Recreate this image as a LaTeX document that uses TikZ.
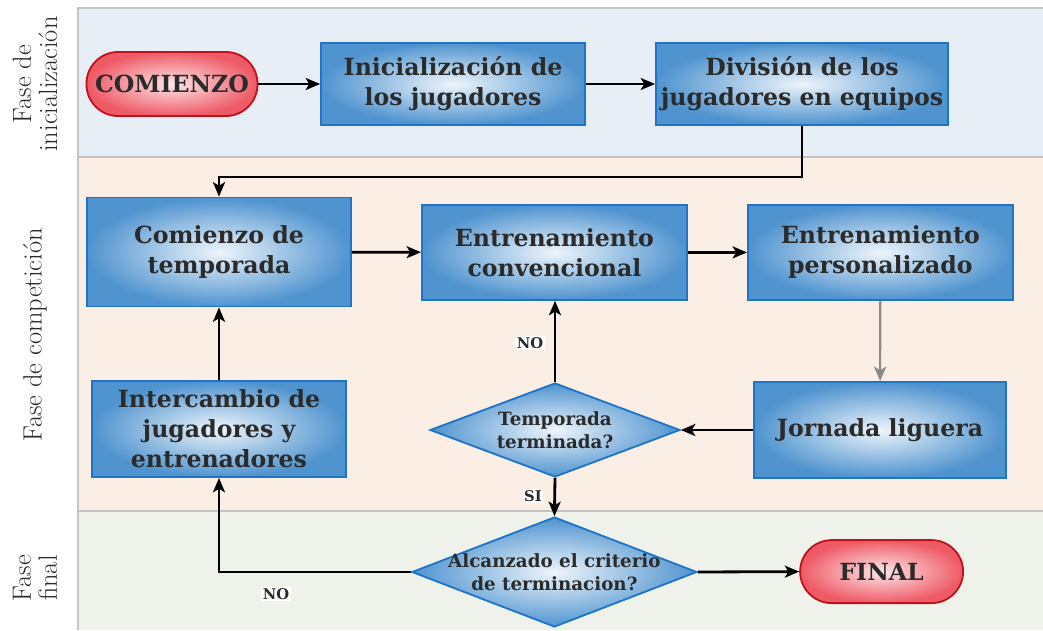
\documentclass[tikz,border=0pt]{standalone}
\usepackage{fontspec}
\newfontfamily\boxfont{DejaVu Serif}
\usepackage{tikz}
\usetikzlibrary{arrows.meta,shapes.geometric,positioning,calc}
\definecolor{bandA}{HTML}{E7EEF6}
\definecolor{bandB}{HTML}{FBEEE5}
\definecolor{bandC}{HTML}{EFF2EA}
\definecolor{frameline}{HTML}{C4C4C4}
\definecolor{boxout}{HTML}{4F93CF}
\definecolor{boxin}{HTML}{EEF5FB}
\definecolor{boxline}{HTML}{1E74C6}
\definecolor{pillout}{HTML}{EE5A66}
\definecolor{pillin}{HTML}{FFE6E9}
\definecolor{pillline}{HTML}{C0121C}
\definecolor{txt}{HTML}{2B2B2B}
\definecolor{softarrow}{HTML}{8A8A8A}

\begin{document}
\begin{tikzpicture}
\tikzset{
    process/.style={
       draw=boxline, line width=1.3pt,
       shading=radial, inner color=boxin, outer color=boxout,
       minimum width=6.6cm, minimum height=2.05cm,
       align=center, text=txt,
       font=\boxfont\bfseries\fontsize{16.8}{21.3}\selectfont
    },
    terminal/.style={
       process, draw=pillline, inner color=pillin, outer color=pillout,
       rounded corners=0.79cm,
       font=\boxfont\bfseries\fontsize{16.8}{20}\selectfont
    },
    decision/.style={
       diamond, draw=boxline, line width=1.3pt, inner sep=0pt,
       shading=radial, inner color=boxin, outer color=boxout
    },
    decision text/.style={
       align=center, text=txt,
       font=\boxfont\bfseries\fontsize{13}{16.3}\selectfont
    },
    flow/.style={
       -{Stealth[length=3.6mm,width=3mm,inset=0.9mm]}, line width=2pt
    },
    flag/.style={
       fill=white, inner sep=1pt, text=txt,
       font=\boxfont\bfseries\fontsize{10.5}{12}\selectfont
    },
    phase/.style={
       rotate=90, align=center, text=txt,
       font=\fontsize{18.8}{18.5}\selectfont
    }
}
\useasboundingbox (0,0) rectangle (26.075,15.75);
%
% phase bands
\fill[bandA] (1.95,11.825) rectangle (26.075,15.55);
\fill[bandB] (1.95,2.975) rectangle (26.075,11.825);
\fill[bandC] (1.95,0) rectangle (26.075,2.975);
\draw[frameline, line width=1pt] (26.075,15.55) -- (1.95,15.55) -- (1.95,0);
\draw[frameline, line width=1pt] (1.95,11.825) -- (26.075,11.825);
\draw[frameline, line width=1pt] (1.95,2.975) -- (26.075,2.975);
\node[phase] (pini) at (0.875,13.65) {Fase de\\inicialización};
\node[phase] (pcomp) at (0.875,7.375) {Fase de competición};
\node[phase] (pfin) at (0.875,1.3) {Fase\\final};

% nodes
\node[terminal, minimum width=4.275cm, minimum height=1.6cm] (start) at (4.3,13.65) {COMIENZO};
\node[process] (init) at (11.325,13.65) {Inicialización de\\los jugadores};
\node[process, minimum width=7.3cm] (split) at (20.05,13.65) {División de los\\jugadores en equipos};
\node[process, minimum height=2.725cm] (season) at (5.475,9.45) {Comienzo de\\temporada};
\node[process, minimum width=6.625cm, minimum height=2.375cm] (conv) at (13.86,9.44) {Entrenamiento\\convencional};
\node[process, minimum width=6.625cm, minimum height=2.375cm] (pers) at (22.01,9.44) {Entrenamiento\\personalizado};
\node[process, minimum width=6.3cm, minimum height=2.4cm] (match) at (22.0,5.0) {Jornada liguera};
\node[process, minimum width=6.35cm, minimum height=2.4cm] (swap) at (5.475,5.025) {Intercambio de\\jugadores y\\entrenadores};
\node[decision, minimum width=6.25cm, minimum height=2.35cm] (over) at (13.875,5.0) {};
\node[decision text] (overtxt) at (over) {Temporada\\terminada?};
\node[decision, minimum width=7.125cm, minimum height=2.75cm] (crit) at (13.86,1.45) {};
\node[decision text] (crittxt) at (crit) {Alcanzado el criterio\\de terminacion?};
\node[terminal, minimum width=4.075cm, minimum height=1.575cm] (final) at (22.04,1.46) {FINAL};

% connectors
\draw[flow] (start) -- (init);
\draw[flow] (init) -- (split);
\draw[flow] (split.south) |- (5.475,11.325) -- (season.north);
\draw[flow] (season) -- (conv);
\draw[flow] (conv) -- (pers);
\draw[flow, softarrow, line width=1.5pt] (pers) -- (match);
\draw[flow] (match) -- (over.east);
\draw[flow] (over.north) -- (over.north |- conv.south);
\draw[flow] (over.south) -- (crit.north);
\draw[flow] (crit.west) -| (swap.south);
\draw[flow] (crit.east) -- (final.west);
\draw[flow] (swap) -- (season);
\node[flag] (no1) at (13.25,7.175) {NO};
\node[flag] (si) at (13.325,3.35) {SI};
\node[flag] (no2) at (6.9,0.9) {NO};
\end{tikzpicture}
\end{document}
